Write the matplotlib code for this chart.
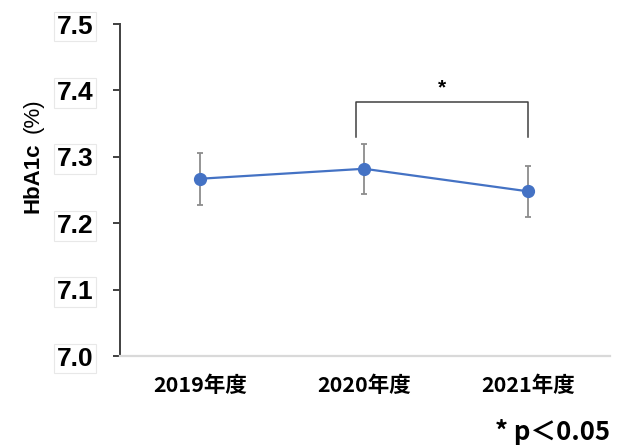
import matplotlib
matplotlib.use("Agg")
import matplotlib.pyplot as plt

years = ["2019年度", "2020年度", "2021年度"]
hba1c = [7.267, 7.282, 7.248]
sd_err = [0.039, 0.038, 0.038]
y_ticks = [7.0, 7.1, 7.2, 7.3, 7.4, 7.5]

plt.rcParams["font.family"] = ["Noto Sans CJK JP", "DejaVu Sans"]

fig = plt.figure(figsize=(6.21, 4.45), dpi=100)
ax = fig.add_axes([0.1932, 0.2, 0.789, 0.746])

x = list(range(len(years)))
ax.errorbar(x, hba1c, yerr=sd_err, fmt="none", ecolor="#8c8c8c",
            elinewidth=1.3, capsize=2.5, capthick=1.3, zorder=2)
ax.plot(x, hba1c, color="#4472C4", lw=1.6, marker="o", ms=8.5, zorder=3)

ax.set_xlim(-0.49, 2.5)
ax.set_ylim(7.0, 7.5)
ax.set_yticks(y_ticks)
ax.set_yticklabels([f"{v:.1f}" for v in y_ticks], family="Liberation Sans",
                   fontweight="bold", fontsize=19)
for lbl in ax.get_yticklabels():
    lbl.set_bbox(dict(facecolor="white", edgecolor="#e8e8e8", lw=0.8, pad=2))
ax.set_xticks(x)
ax.set_xticklabels(years, fontsize=15.5, fontweight="bold")

for s in ("top", "right"):
    ax.spines[s].set_visible(False)
ax.spines["left"].set_color("#404040")
ax.spines["left"].set_linewidth(1.4)
ax.spines["bottom"].set_color("#d9d9d9")
ax.spines["bottom"].set_linewidth(1.6)
ax.tick_params(axis="y", direction="out", length=5, width=1.4, color="#404040", pad=14)
ax.tick_params(axis="x", length=0, pad=14)

# significance bracket between 2020 and 2021
bx0, bx1 = 0.95, 2.0
by_top, by_bot = 7.383, 7.33
ax.plot([bx0, bx0, bx1, bx1], [by_bot, by_top, by_top, by_bot],
        color="#404040", lw=1.1, zorder=2)
ax.text((bx0 + bx1) / 2, 7.39, "*", ha="center", va="bottom",
        fontsize=15, fontweight="bold", family="Liberation Sans")

fig.text(0.053, 0.601, "HbA1c", rotation=90, ha="center", va="center",
         family="Liberation Sans", fontweight="bold", fontsize=16)
fig.text(0.053, 0.739, "(%)", rotation=90, ha="center", va="center",
         family="Liberation Sans", fontsize=16)

fig.text(0.982, 0.012, "* p＜0.05", ha="right", va="baseline",
         fontsize=18.5, fontweight="bold")

fig.savefig("out.png", dpi=100)
